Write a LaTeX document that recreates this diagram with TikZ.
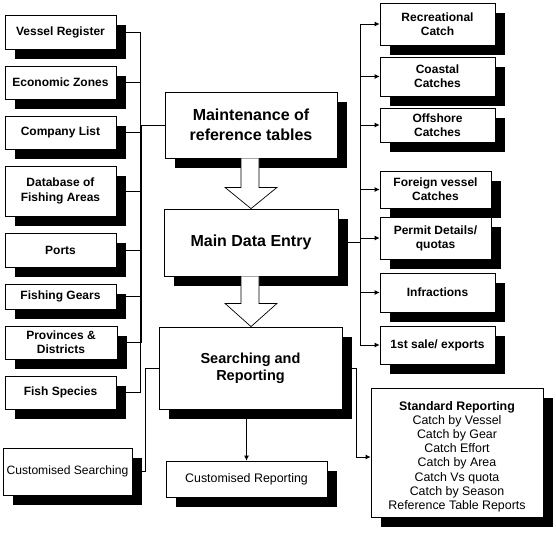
\documentclass[tikz,border=0pt]{standalone}
\usepackage{fontspec}
\setmainfont{Liberation Sans}
\usetikzlibrary{shadows,arrows.meta,calc}
\tikzset{
  box/.style={draw, fill=white, line width=0.8pt, inner sep=1pt, align=center,
    drop shadow={shadow xshift=9.5pt, shadow yshift=-9.5pt, fill=black, opacity=1}},
  small/.style={box, font=\fontsize{12}{14.2}\selectfont\bfseries},
  big/.style={box, font=\fontsize{16}{20}\selectfont\bfseries},
  plain/.style={box, font=\fontsize{12.4}{14.2}\selectfont},
  conn/.style={line width=0.8pt},
  arr/.style={conn, -{Latex[length=5pt,width=5pt]}},
  hollow/.style={draw=black, fill=white, line width=0.7pt}
}
\begin{document}
\begin{tikzpicture}[x=1pt,y=-1pt]
\useasboundingbox (0,0) rectangle (556,539);
% left column
\node[small, minimum width=111pt, minimum height=34pt] (vr) at (60.5,32) {Vessel Register};
\node[small, minimum width=111pt, minimum height=33pt] (ez) at (60.5,82.5) {Economic Zones};
\node[small, minimum width=111pt, minimum height=33pt] (cl) at (60.5,132.5) {Company List};
\node[small, minimum width=111pt, minimum height=50pt] (db) at (60.5,191) {Database of\\Fishing Areas};
\node[small, minimum width=111pt, minimum height=34pt] (po) at (60.5,250) {Ports};
\node[small, minimum width=111pt, minimum height=25pt] (fg) at (60.5,296.5) {Fishing Gears};
\node[small, minimum width=112pt, minimum height=33pt] (pd) at (61,342.5) {Provinces \&\\Districts};
\node[small, minimum width=111pt, minimum height=33pt] (fs) at (60.5,392.5) {Fish Species};
\node[plain, minimum width=129pt, minimum height=47pt, inner sep=0pt, font=\fontsize{12.1}{14}\selectfont] (cs) at (67.5,471.5) {Customised Searching};
% centre column
\node[big, minimum width=172pt, minimum height=66pt] (mt) at (251,125) {Maintenance of\\reference tables};
\node[big, minimum width=174pt, minimum height=67pt] (me) at (251,242.5) {Main Data Entry};
\node[big, minimum width=183pt, minimum height=82pt] (sr) at (250.5,368) {};
\node[font=\fontsize{14.5}{17}\selectfont\bfseries, align=center, inner sep=0pt] (srt) at (250.5,368) {Searching and\\Reporting};
\node[plain, minimum width=161pt, minimum height=36pt] (cr) at (246.5,479) {Customised Reporting};
% right column
\node[small, minimum width=115pt, minimum height=42pt] (rc) at (437.5,24) {Recreational\\Catch};
\node[small, minimum width=115pt, minimum height=39pt] (cc) at (437.5,76.5) {Coastal\\Catches};
\node[small, minimum width=115pt, minimum height=34pt] (oc) at (437.5,125) {Offshore\\Catches};
\node[small, minimum width=111pt, minimum height=37pt] (fv) at (435.5,189.5) {Foreign vessel\\Catches};
\node[small, minimum width=111pt, minimum height=42pt] (pq) at (435.5,238) {Permit Details/\\quotas};
\node[small, minimum width=115pt, minimum height=39pt] (in) at (437.5,292.5) {Infractions};
\node[small, minimum width=115pt, minimum height=38pt] (fe) at (437.5,345) {1st sale/ exports};
\node[plain, minimum width=172pt, minimum height=129pt] (st) at (457,452.5) {};
\node[font=\fontsize{12.4}{14.2}\selectfont, align=center, inner sep=0pt] (stt) at (457,456.5) {\textbf{Standard Reporting}\\Catch by Vessel\\Catch by Gear\\Catch Effort\\Catch by Area\\Catch Vs quota\\Catch by Season\\Reference Table Reports};
% left bus
\coordinate (lb) at (140,0);
\foreach \n in {vr,ez,cl,db,po,fg,pd,fs} {\draw[conn] (\n.east) -- (\n.east -| lb);}
\draw[conn] (vr.east -| lb) -- (fs.east -| lb);
\draw[conn] ($(mt.west -| lb)+(1,0)$) -- ($(pd.east -| lb)+(1,0)$);
\draw[conn] (mt.west) -- (mt.west -| lb);
% right bus
\coordinate (rb) at (360,0);
\foreach \n in {rc,cc,oc,fv,pq,in,fe} {\draw[arr] (\n.west -| rb) -- (\n.west);}
\draw[conn] (rc.west -| rb) -- (fe.west -| rb);
\draw[conn] (me.east) -- (me.east -| rb);
% searching connectors
\coordinate (csb) at (145,0);
\draw[conn] (sr.west) -- (sr.west -| csb) -- (cs.east -| csb) -- (cs.east);
\coordinate (srr) at (356,457);
\draw[arr] (sr.east) -- (sr.east -| srr) -- (srr) -- (srr -| st.west);
\draw[arr] (sr.south -| cr.north) -- (cr.north);
% hollow arrows
\draw[hollow] ($(mt.south)+(-10,0)$) -- ($(mt.south)+(-10,29)$) -- ($(mt.south)+(-26,29)$)
  -- (me.north) -- ($(mt.south)+(26,29)$) -- ($(mt.south)+(8,29)$) -- ($(mt.south)+(8,0)$);
\draw[hollow] ($(me.south)+(-10,0)$) -- ($(me.south)+(-10,27)$) -- ($(me.south)+(-26,27)$)
  -- (me.south |- sr.north) -- ($(me.south)+(26,27)$) -- ($(me.south)+(8,27)$) -- ($(me.south)+(8,0)$);
\end{tikzpicture}
\end{document}
